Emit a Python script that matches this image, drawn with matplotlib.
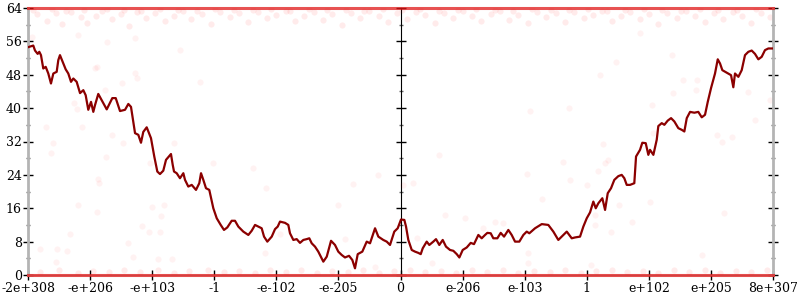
import numpy as np
import matplotlib.pyplot as plt

# x positions are in tick-index units (0 = -2e+308 ... 12 = 8e+307)
tick_labels = ['-2e+308', '-e+206', '-e+103', '-1', '-e-102', '-e-205', '0',
               'e-206', 'e-103', '1', 'e+102', 'e+205', '8e+307']

line_x = [0.0, 0.085, 0.113, 0.156, 0.182, 0.209, 0.246, 0.285, 0.327, 0.370,
          0.408, 0.462, 0.488, 0.515, 0.569, 0.607, 0.649, 0.693, 0.730, 0.784,
          0.838, 0.891, 0.929, 0.971, 1.015, 1.052, 1.079, 1.132, 1.187, 1.268,
          1.358, 1.413, 1.482, 1.563, 1.616, 1.659, 1.724, 1.777, 1.820, 1.857,
          1.912, 1.981, 2.034, 2.083, 2.126, 2.179, 2.223, 2.303, 2.331, 2.352,
          2.395, 2.448, 2.502, 2.529, 2.582, 2.637, 2.706, 2.759, 2.787, 2.824,
          2.867, 2.920, 2.985, 3.040, 3.104, 3.157, 3.210, 3.281, 3.334, 3.388,
          3.468, 3.549, 3.603, 3.657, 3.710, 3.764, 3.802, 3.855, 3.926, 3.979,
          4.022, 4.059, 4.140, 4.193, 4.220, 4.274, 4.328, 4.381, 4.435, 4.489,
          4.531, 4.570, 4.623, 4.676, 4.757, 4.812, 4.881, 4.945, 4.998, 5.053,
          5.106, 5.171, 5.224, 5.267, 5.311, 5.385, 5.456, 5.509, 5.590, 5.643,
          5.723, 5.778, 5.831, 5.900, 5.955, 6.008, 6.062, 6.089, 6.126, 6.181,
          6.234, 6.287, 6.326, 6.358, 6.422, 6.464, 6.529, 6.572, 6.625, 6.680,
          6.733, 6.798, 6.851, 6.906, 6.948, 7.002, 7.067, 7.131, 7.184, 7.254,
          7.308, 7.362, 7.399, 7.453, 7.495, 7.560, 7.614, 7.668, 7.737, 7.791,
          7.845, 7.914, 7.979, 8.033, 8.075, 8.167, 8.275, 8.381, 8.462, 8.542,
          8.597, 8.678, 8.758, 8.811, 8.892, 8.945, 9.000, 9.053, 9.106, 9.145,
          9.187, 9.251, 9.295, 9.338, 9.391, 9.444, 9.509, 9.563, 9.605, 9.644,
          9.697, 9.766, 9.794, 9.858, 9.895, 9.950, 9.992, 10.019, 10.073, 10.127,
          10.153, 10.208, 10.250, 10.304, 10.358, 10.411, 10.475, 10.530, 10.572, 10.611,
          10.664, 10.733, 10.797, 10.852, 10.905, 10.949, 11.002, 11.066, 11.110, 11.147,
          11.184, 11.255, 11.324, 11.361, 11.388, 11.442, 11.496, 11.549, 11.603, 11.657,
          11.710, 11.764, 11.818, 11.871, 11.925, 11.979, 12.0]
line_y = [54.6, 55.0, 53.8, 53.0, 53.5, 52.7, 49.5, 49.9, 48.3, 45.9,
          48.3, 48.7, 51.5, 52.7, 50.7, 49.3, 48.3, 46.3, 47.1, 46.3,
          43.6, 44.3, 43.1, 39.6, 41.5, 39.1, 40.7, 43.4, 41.9, 39.7,
          42.4, 42.4, 39.3, 39.6, 41.0, 40.3, 34.0, 33.6, 31.7, 34.3,
          35.4, 32.8, 28.4, 24.8, 24.2, 25.0, 27.6, 29.0, 26.4, 24.8,
          24.4, 23.2, 24.4, 22.8, 21.2, 21.6, 20.4, 22.0, 24.4, 22.8,
          20.8, 20.4, 16.0, 13.6, 12.0, 10.8, 11.4, 13.0, 13.0, 11.6,
          10.4, 9.6, 10.6, 12.0, 11.6, 11.2, 9.2, 8.0, 9.2, 11.0,
          11.6, 12.8, 12.5, 12.0, 10.0, 8.4, 8.6, 7.7, 8.4, 8.6,
          8.8, 7.6, 6.8, 5.6, 3.2, 4.4, 8.2, 7.2, 5.6, 4.8,
          4.2, 4.6, 3.6, 1.6, 5.0, 5.6, 8.0, 7.6, 11.2, 9.2,
          8.4, 8.0, 7.2, 10.4, 11.2, 13.3, 13.2, 11.6, 8.4, 6.0,
          5.6, 5.3, 5.0, 6.4, 8.0, 7.2, 8.0, 8.6, 7.2, 8.4,
          6.8, 6.0, 5.8, 5.0, 4.2, 6.0, 6.6, 7.7, 7.4, 9.6,
          8.8, 9.6, 10.1, 10.0, 8.8, 8.8, 10.1, 9.2, 10.8, 9.6,
          8.0, 8.0, 9.6, 10.4, 10.0, 11.2, 12.2, 12.0, 10.4, 8.4,
          9.2, 10.4, 8.8, 9.0, 9.2, 11.6, 13.6, 15.0, 17.6, 16.0,
          17.2, 18.4, 15.6, 19.6, 20.8, 22.8, 23.7, 24.0, 23.2, 21.6,
          21.6, 22.0, 28.4, 30.0, 31.7, 31.6, 28.8, 30.0, 28.8, 32.4,
          35.7, 36.4, 36.0, 37.0, 37.6, 36.8, 35.2, 34.8, 34.4, 37.6,
          39.1, 38.9, 39.1, 37.8, 38.4, 41.5, 44.8, 48.3, 51.7, 50.7,
          49.1, 48.5, 47.9, 45.0, 48.3, 47.5, 49.1, 52.7, 53.5, 53.8,
          53.0, 51.7, 52.3, 53.9, 54.3, 54.3, 54.3]

# faint sample points
top_x = [0.15, 0.3, 0.45, 0.55, 0.7, 0.85, 0.95, 1.1, 1.2, 1.35, 1.5, 1.62, 1.75, 1.9,
         2.05, 2.2, 2.35, 2.5, 2.62, 2.8, 2.95, 3.1, 3.25, 3.4, 3.55, 3.7, 3.85, 4.0,
         4.15, 4.3, 4.45, 4.6, 4.75, 4.9, 5.05, 5.2, 5.35, 5.5, 5.65, 5.8, 5.95, 6.1,
         6.25, 6.4, 6.55, 6.7, 6.85, 7.0, 7.15, 7.3, 7.45, 7.6, 7.75, 7.9, 8.05, 8.2,
         8.35, 8.5, 8.65, 8.8, 8.95, 9.1, 9.25, 9.4, 9.55, 9.7, 9.85, 10.0, 10.15, 10.3,
         10.45, 10.6, 10.75, 10.9, 11.05, 11.2, 11.35, 11.5, 11.65, 11.8, 11.95,
         0.08, 0.38, 0.62, 0.9, 1.28, 1.55, 1.82, 2.12, 2.42, 2.72, 3.02, 3.32, 3.62, 3.92,
         4.22, 4.52, 4.82, 5.12, 5.42, 5.72, 6.02, 6.32, 6.62, 6.92, 7.22, 7.52, 7.82, 8.12,
         8.42, 8.72, 9.02, 9.32, 9.62, 9.92, 10.22, 10.52, 10.82, 11.12, 11.42, 11.72]
top_y = [62.5, 61.0, 62.8, 60.2, 63.0, 61.8, 60.5, 62.2, 63.3, 61.4, 62.6, 59.8, 63.0, 61.7,
         62.9, 60.8, 62.1, 63.2, 61.3, 62.5, 60.1, 63.1, 61.9, 62.7, 60.6, 63.0, 61.5, 62.4,
         63.3, 60.9, 62.0, 63.0, 61.2, 62.6, 59.9, 62.9, 61.6, 63.2, 62.1, 60.7, 62.8, 61.4,
         63.1, 62.3, 60.4, 62.9, 61.7, 63.2, 62.0, 60.8, 62.6, 63.3, 61.1, 62.4, 60.3, 63.0,
         61.8, 62.7, 60.6, 63.1, 61.5, 62.3, 63.2, 60.9, 62.1, 63.0, 61.3, 62.6, 60.2, 62.9,
         61.6, 63.2, 62.0, 60.7, 62.8, 61.4, 63.1, 62.2, 60.5, 62.9, 61.8,
         63.5, 63.7, 63.4, 63.6, 63.8, 63.5, 63.3, 63.7, 63.6, 63.4, 63.8, 63.5, 63.6, 63.7,
         63.4, 63.8, 63.5, 63.6, 63.3, 63.7, 63.5, 63.8, 63.4, 63.6, 63.7, 63.5, 63.4, 63.8,
         63.6, 63.5, 63.7, 63.3, 63.6, 63.8, 63.5, 63.4, 63.7, 63.6, 63.5, 63.8]

bottom_x = [0.2, 0.5, 0.8, 1.05, 1.3, 1.55, 1.8, 2.1, 2.35, 2.6, 2.9, 3.15, 3.4, 3.65,
            3.9, 4.15, 4.4, 4.65, 4.9, 5.15, 5.4, 5.65, 5.9, 6.15, 6.4, 6.65, 6.9, 7.15,
            7.4, 7.65, 7.9, 8.15, 8.4, 8.65, 8.9, 9.15, 9.4, 9.65, 9.9, 10.15, 10.4, 10.65,
            10.9, 11.15, 11.4, 11.65, 11.9]
bottom_y = [0.8, 1.2, 0.5, 1.0, 0.7, 1.3, 0.6, 1.1, 0.4, 0.9, 1.3, 0.6, 1.0, 0.5,
            1.2, 0.8, 1.3, 0.5, 1.0, 0.7, 1.2, 0.4, 0.9, 1.3, 0.6, 1.0, 0.5, 1.2,
            0.8, 1.3, 0.5, 1.0, 0.7, 1.2, 0.4, 0.9, 1.3, 0.6, 1.0, 0.5, 1.2, 0.8,
            1.3, 0.5, 1.0, 0.7, 1.2]

mid_x = [0.19, 0.47, 0.63, 0.45, 0.68, 1.11, 1.61, 1.69, 1.84, 1.95, 2.13, 2.14, 2.00, 2.19,
         2.09, 2.32, 0.81, 0.81, 1.08, 1.27, 1.51, 1.72, 1.76, 1.24, 0.74, 0.79, 0.87, 0.29,
         1.35, 1.53, 0.40, 0.37, 1.26, 1.97, 1.13, 1.14, 2.35, 2.98, 3.62, 3.83, 4.99, 5.11,
         4.06, 5.24, 5.64, 6.62, 6.20, 6.04, 6.72, 7.04, 6.27, 6.51, 7.33, 7.52, 7.65, 8.05,
         8.05, 8.09, 8.71, 9.26, 9.34, 9.29, 9.18, 8.62, 8.04, 8.73, 9.00, 8.28, 9.52, 9.13,
         9.73, 10.02, 10.07, 9.13, 10.37, 10.55, 10.78, 10.76, 10.39, 10.05, 11.60, 11.71, 11.95, 11.10,
         11.34, 11.18, 9.39, 9.07, 10.86, 11.21, 3.82, 5.59, 1.11, 2.45, 2.77, 1.72, 0.06, 9.86,
         9.47, 9.21]
mid_y = [6.2, 6.2, 5.8, 3.1, 9.8, 15.1, 7.7, 4.3, 11.8, 10.3, 10.3, 14.1, 16.3, 16.8,
         3.8, 3.8, 16.8, 57.5, 49.6, 55.9, 46.0, 48.4, 47.2, 44.3, 41.2, 39.8, 35.5, 35.5,
         33.6, 31.6, 31.6, 29.2, 28.3, 26.8, 23.0, 22.0, 31.6, 26.8, 25.6, 20.8, 16.8, 8.6,
         9.8, 21.8, 24.0, 28.8, 22.0, 21.6, 14.4, 13.7, 8.9, 2.9, 11.3, 12.7, 12.5, 5.3,
         2.9, 39.3, 40.0, 31.4, 27.6, 26.8, 24.9, 27.1, 24.2, 22.8, 21.6, 18.2, 16.8, 14.4,
         12.7, 17.5, 34.0, 12.0, 52.7, 46.7, 46.7, 44.3, 43.6, 40.7, 43.9, 37.2, 41.9, 33.6,
         33.1, 31.9, 10.3, 2.4, 4.8, 14.9, 5.3, 1.9, 49.9, 53.9, 46.3, 56.8, 57.0, 58.0,
         51.0, 48.0]

band_levels = [0, 64]

plt.rcParams['font.family'] = 'DejaVu Serif'
plt.rcParams['font.size'] = 9

fig = plt.figure(figsize=(8, 3), dpi=100)
ax = fig.add_axes([28 / 800, 25 / 300, 745 / 800, 267 / 300])

dot_color = '#ff0000'
ax.scatter(top_x, top_y, s=20, color=dot_color, alpha=0.08, linewidths=0)
ax.scatter(bottom_x, bottom_y, s=20, color=dot_color, alpha=0.08, linewidths=0)
ax.scatter(mid_x, mid_y, s=20, color=dot_color, alpha=0.05, linewidths=0)
for lv in band_levels:
    ax.axhline(lv, color='#e01818', lw=2.2, alpha=0.75, clip_on=False, zorder=3)

ax.plot(line_x, line_y, color='#8b0000', lw=1.6, zorder=4)

ax.set_xlim(0, 12)
ax.set_ylim(0, 64)

for side in ['left', 'right']:
    ax.spines[side].set_color('#b4b4b4')
    ax.spines[side].set_linewidth(2)
ax.spines['top'].set_visible(False)
ax.spines['bottom'].set_color('#b4b4b4')
ax.spines['bottom'].set_linewidth(1)

ax.set_xticks(range(13))
ax.set_xticklabels(tick_labels)
ax.set_yticks(np.arange(0, 65, 8))
ax.set_yticks(np.arange(4, 64, 8), minor=True)
ax.tick_params(axis='x', direction='inout', length=7, width=1, pad=1.5, color='black')
ax.tick_params(axis='y', which='major', direction='inout', length=7, width=1, pad=1,
               right=True, color='black')
ax.tick_params(axis='y', which='minor', direction='inout', length=3, width=1,
               right=True, color='#666666')

# centre axis at x = 0
mid = ax.secondary_yaxis(0.5)
mid.spines['left'].set_color('#909090')
mid.spines['left'].set_linewidth(1)
mid.set_yticks(np.arange(0, 65, 8))
mid.set_yticks(np.arange(4, 64, 8), minor=True)
mid.set_yticklabels([])
mid.tick_params(which='major', direction='inout', length=7, width=1, color='black',
                labelleft=False, labelright=False)
mid.tick_params(which='minor', direction='inout', length=3, width=1, color='#666666')

fig.savefig('out.png', dpi=100)
